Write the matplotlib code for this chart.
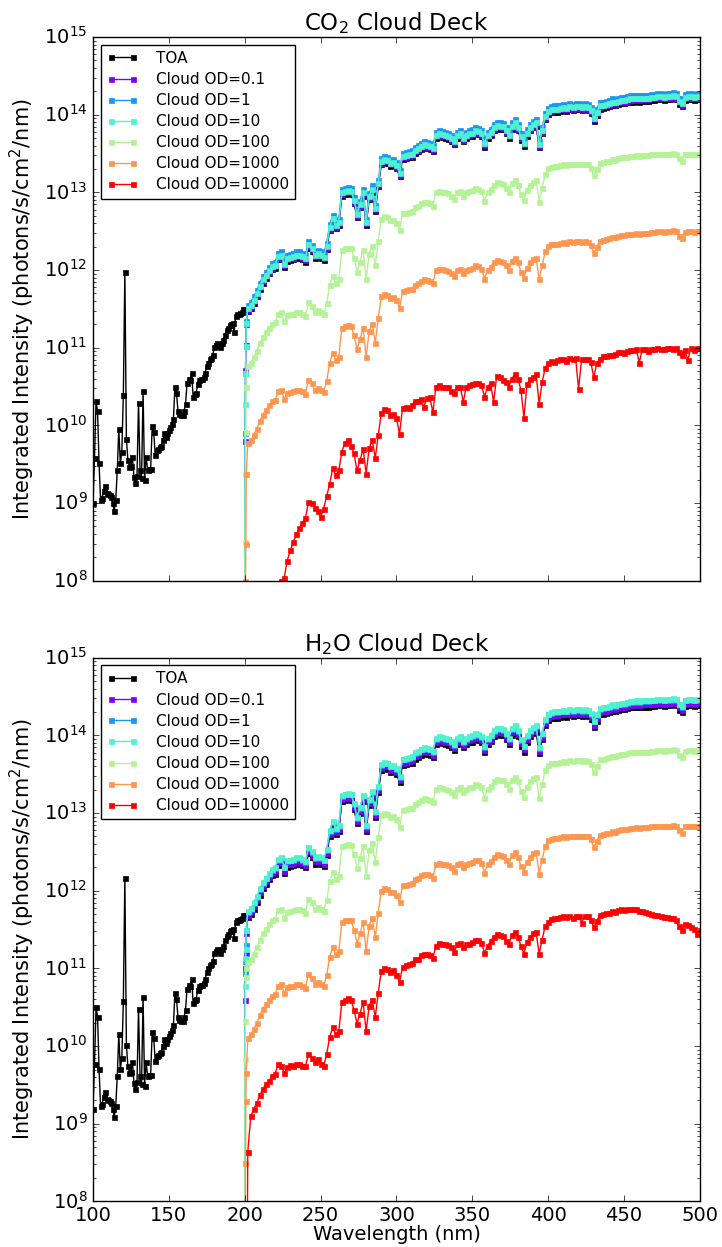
import numpy as np
import matplotlib
matplotlib.use('Agg')
import matplotlib.pyplot as plt

plt.style.use('classic')
plt.rcParams['figure.facecolor'] = 'white'
plt.rcParams['savefig.facecolor'] = 'white'
plt.rcParams['mathtext.default'] = 'regular'
plt.rcParams['font.family'] = ['DejaVu Sans']

# wavelength grids (nm)
wl_uv = np.arange(100, 200)                      # TOA only, 1 nm steps
wl_vis = np.arange(200, 501, 2)                  # 2 nm steps
wl_edge = [200.0, 200.25, 200.5, 200.75, 201.0]  # cut-on of the cloud runs

# log10 of TOA intensity, CO2 panel, 100-199 nm
toa_uv = [
    9.00, 9.58, 10.31, 10.19, 9.51, 9.04, 9.07, 9.15, 9.22, 9.13,
    9.12, 9.11, 9.08, 9.00, 8.90, 9.04, 9.42, 9.96, 9.51, 9.66,
    10.39, 11.98, 9.83, 9.55, 9.47, 9.48, 9.60, 9.34, 9.26, 9.35,
    10.29, 9.42, 9.32, 10.44, 9.30, 9.60, 9.43, 9.44, 9.44, 9.99,
    9.92, 9.62, 9.68, 9.70, 9.72, 9.73, 9.81, 9.90, 9.85, 9.90,
    9.94, 9.98, 10.02, 10.08, 10.50, 10.42, 10.19, 10.15, 10.13, 10.13,
    10.18, 10.28, 10.55, 10.60, 10.59, 10.68, 10.36, 10.40, 10.42, 10.53,
    10.59, 10.60, 10.60, 10.62, 10.68, 10.77, 10.81, 10.85, 10.87, 10.91,
    11.01, 11.04, 11.06, 11.04, 11.01, 11.06, 11.10, 11.17, 11.23, 11.25,
    11.29, 11.30, 11.32, 11.20, 11.41, 11.43, 11.43, 11.45, 11.46, 11.50,
]

# log10 of TOA intensity, CO2 panel, 200-500 nm
toa_vis = [
    11.50, 11.47, 11.51, 11.58, 11.66, 11.76, 11.84, 11.90, 11.96, 12.01,
    12.03, 12.14, 12.16, 12.04, 12.12, 12.13, 12.14, 12.16, 12.16, 12.14,
    12.11, 12.29, 12.24, 12.16, 12.18, 12.16, 12.13, 12.27, 12.51, 12.63,
    12.54, 12.58, 12.96, 12.98, 12.99, 12.98, 12.86, 12.68, 12.81, 12.96,
    12.58, 12.91, 13.01, 12.76, 13.08, 13.36, 13.39, 13.38, 13.34, 13.35,
    13.31, 13.21, 13.43, 13.44, 13.45, 13.46, 13.51, 13.53, 13.56, 13.58,
    13.57, 13.56, 13.53, 13.70, 13.72, 13.71, 13.70, 13.69, 13.66, 13.62,
    13.70, 13.72, 13.66, 13.70, 13.72, 13.73, 13.76, 13.75, 13.72, 13.59,
    13.70, 13.74, 13.80, 13.83, 13.82, 13.81, 13.76, 13.70, 13.82, 13.86,
    13.80, 13.68, 13.60, 13.73, 13.80, 13.84, 13.86, 13.58, 13.76, 13.94,
    14.01, 14.03, 14.04, 14.04, 14.05, 14.06, 14.05, 14.07, 14.06, 14.07,
    14.07, 14.06, 14.07, 14.06, 14.02, 13.92, 14.00, 14.08, 14.09, 14.10,
    14.11, 14.13, 14.12, 14.14, 14.15, 14.15, 14.16, 14.17, 14.17, 14.18,
    14.17, 14.18, 14.18, 14.18, 14.19, 14.19, 14.20, 14.20, 14.19, 14.20,
    14.20, 14.21, 14.20, 14.14, 14.11, 14.19, 14.20, 14.20, 14.19, 14.20,
    14.20,
]

od_labels = ['Cloud OD=0.1', 'Cloud OD=1', 'Cloud OD=10',
             'Cloud OD=100', 'Cloud OD=1000', 'Cloud OD=10000']

# ---- CO2 cloud deck ----
co2_toa_shift = 0.0
# log10 intensity at the 200-201 nm cut-on
co2_edge = [
    [7.0, 9.80, 10.72, 11.04, 11.30],
    [6.5, 9.90, 10.67, 11.02, 11.35],
    [6.0, 10.28, 10.67, 11.02, 11.32],
    [6.0, 8.50, 9.38, 9.92, 10.50],
    [5.5, 7.00, 8.00, 8.47, 9.38],
    [5.0, 5.00, 5.00, 5.00, 5.00],
]
# dex relative to TOA, 202-500 nm
co2_od10000 = [
    -6.00, -6.00, -5.80, -5.60, -5.40, -5.20, -5.00, -4.90, -4.80, -4.70,
    -4.55, -4.16, -4.00, -3.86, -3.74, -3.64, -3.56, -3.48, -3.40, -3.30,
    -3.28, -3.24, -3.22, -3.28, -3.34, -3.20, -3.18, -3.26, -3.18, -3.18,
    -3.16, -3.30, -3.20, -3.18, -3.24, -3.22, -3.26, -3.26, -3.26, -3.20,
    -3.20, -3.20, -3.18, -3.20, -3.20, -3.18, -3.18, -3.20, -3.20, -3.22,
    -3.32, -3.20, -3.20, -3.22, -3.20, -3.20, -3.22, -3.22, -3.34, -3.22,
    -3.20, -3.36, -3.20, -3.20, -3.22, -3.20, -3.20, -3.22, -3.20, -3.20,
    -3.22, -3.36, -3.20, -3.20, -3.20, -3.22, -3.20, -3.20, -3.22, -3.20,
    -3.20, -3.50, -3.20, -3.20, -3.22, -3.20, -3.20, -3.22, -3.20, -3.20,
    -3.22, -3.50, -3.20, -3.20, -3.22, -3.20, -3.30, -3.20, -3.20, -3.20,
    -3.20, -3.22, -3.20, -3.20, -3.20, -3.22, -3.20, -3.20, -3.20, -3.60,
    -3.20, -3.22, -3.20, -3.20, -3.30, -3.20, -3.22, -3.20, -3.20, -3.20,
    -3.22, -3.20, -3.20, -3.20, -3.22, -3.20, -3.20, -3.20, -3.20, -3.36,
    -3.20, -3.20, -3.22, -3.20, -3.20, -3.20, -3.22, -3.20, -3.20, -3.20,
    -3.22, -3.20, -3.20, -3.20, -3.22, -3.36, -3.20, -3.22, -3.20, -3.20,
]
co2_offsets = [0.02, 0.08, 0.04, -0.70, -1.70, co2_od10000]

# ---- H2O cloud deck ----
h2o_toa_shift = 0.19
h2o_edge = [
    [6.0, 10.60, 11.00, 11.20, 11.45],
    [6.0, 10.94, 11.10, 11.30, 11.50],
    [6.0, 10.77, 11.13, 11.25, 11.50],
    [6.0, 9.83, 10.32, 10.89, 11.00],
    [5.5, 7.50, 8.49, 9.30, 9.66],
    [5.0, 5.00, 5.00, 5.00, 5.00],
]
h2o_od10000 = [
    -3.02, -2.60, -2.58, -2.58, -2.58, -2.58, -2.58, -2.60, -2.58, -2.58,
    -2.56, -2.60, -2.58, -2.58, -2.56, -2.58, -2.58, -2.58, -2.58, -2.56,
    -2.58, -2.58, -2.56, -2.54, -2.58, -2.58, -2.56, -2.58, -2.58, -2.58,
    -2.58, -2.58, -2.58, -2.56, -2.58, -2.58, -2.58, -2.58, -2.58, -2.58,
    -2.58, -2.60, -2.58, -2.58, -2.58, -2.58, -2.58, -2.58, -2.56, -2.58,
    -2.58, -2.60, -2.58, -2.58, -2.58, -2.58, -2.60, -2.58, -2.58, -2.58,
    -2.58, -2.58, -2.60, -2.58, -2.58, -2.58, -2.58, -2.58, -2.60, -2.58,
    -2.58, -2.58, -2.58, -2.60, -2.58, -2.58, -2.58, -2.58, -2.58, -2.60,
    -2.58, -2.58, -2.58, -2.58, -2.58, -2.60, -2.58, -2.58, -2.58, -2.58,
    -2.58, -2.60, -2.58, -2.58, -2.58, -2.58, -2.58, -2.58, -2.58, -2.60,
    -2.58, -2.58, -2.58, -2.58, -2.58, -2.58, -2.58, -2.60, -2.58, -2.58,
    -2.66, -2.58, -2.58, -2.58, -2.58, -2.58, -2.58, -2.58, -2.58, -2.58,
    -2.58, -2.58, -2.58, -2.58, -2.59, -2.59, -2.60, -2.60, -2.61, -2.62,
    -2.63, -2.64, -2.66, -2.68, -2.69, -2.70, -2.71, -2.72, -2.73, -2.74,
    -2.75, -2.77, -2.78, -2.80, -2.81, -2.83, -2.85, -2.87, -2.95, -2.90,
]
h2o_offsets = [0.03, 0.07, 0.08, -0.58, -1.55, h2o_od10000]

panels = [
    ('CO$_2$ Cloud Deck', co2_toa_shift, co2_edge, co2_offsets),
    ('H$_2$O Cloud Deck', h2o_toa_shift, h2o_edge, h2o_offsets),
]

colors = plt.cm.rainbow(np.linspace(0, 1, len(od_labels)))
toa_wl = np.concatenate([wl_uv, wl_vis])
cloud_wl = np.concatenate([wl_edge, wl_vis[1:]])
base = np.array(toa_vis[1:])

fig, axes = plt.subplots(2, 1, figsize=(7.22, 12.47), dpi=100, sharex=True)
fig.subplots_adjust(left=0.1288, right=0.9695, top=0.9703, bottom=0.0365, hspace=0.1415)

for ax, (title, shift, edges, offsets) in zip(axes, panels):
    toa_log = np.concatenate([toa_uv, toa_vis]) + shift
    ax.plot(toa_wl, 10 ** toa_log, color='k', marker='s', ms=3.6, mew=0.5,
            mec='k', lw=1.0, label='TOA')
    for lab, col, edge, off in zip(od_labels, colors, edges, offsets):
        vis_log = base + shift + np.asarray(off)
        y = 10 ** np.concatenate([edge, vis_log])
        ax.plot(cloud_wl, y, color=col, marker='s', ms=3.6, mew=0.5,
                mec=col, lw=1.0, label=lab)
    ax.set_yscale('log')
    ax.set_ylim(1e8, 1e15)
    ax.set_xlim(100, 500)
    ax.set_xticks(np.arange(100, 501, 50))
    ax.set_title(title, fontsize=16.5)
    ax.set_ylabel('Integrated Intensity (photons/s/cm$^2$/nm)', fontsize=15)
    ax.tick_params(labelsize=14, pad=4)
    ax.tick_params(axis='x', pad=3)
    ax.legend(loc='upper left', fontsize=11, numpoints=2,
              handletextpad=1.2, labelspacing=0.4)

axes[1].set_xlabel('Wavelength (nm)', fontsize=14, labelpad=0)

fig.savefig('out.png', dpi=100)
